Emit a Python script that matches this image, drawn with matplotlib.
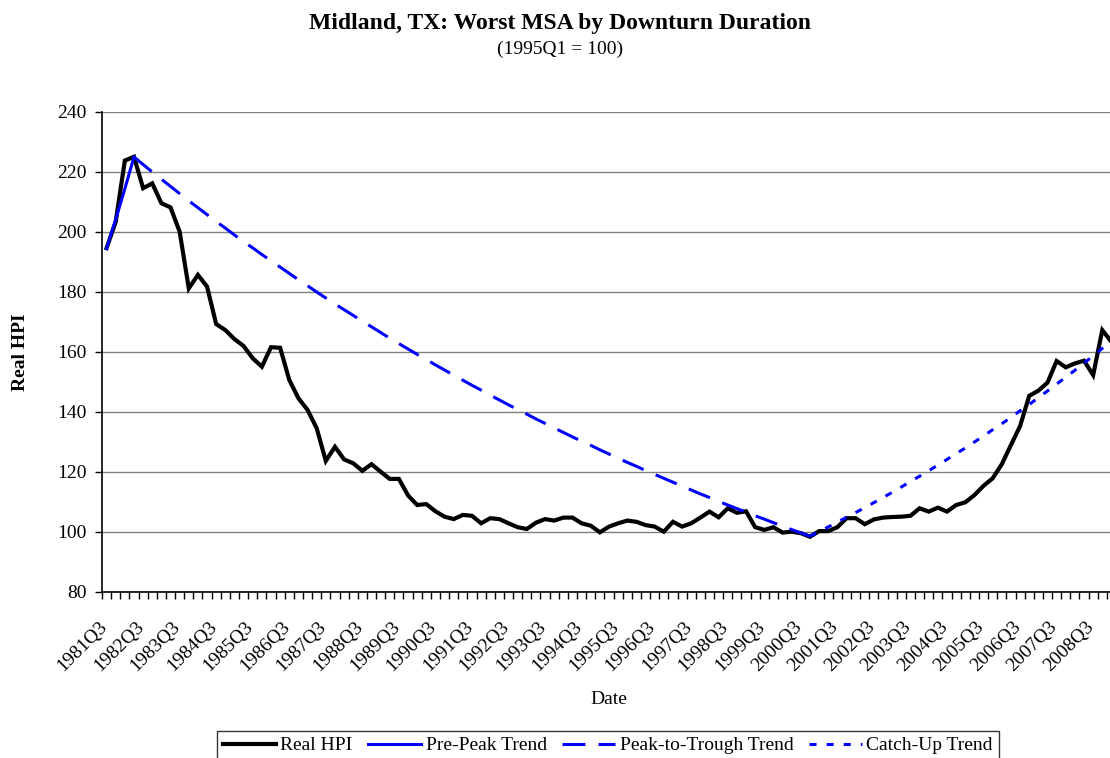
import matplotlib
matplotlib.use("Agg")
import matplotlib.pyplot as plt
from matplotlib.transforms import ScaledTranslation

plt.rcParams['font.family'] = ['Liberation Serif', 'DejaVu Serif']

# --- data (quarterly, 1981Q3 .. 2009Q1) ---
quarters = []
for y in range(1981, 2010):
    for q in range(1, 5):
        if (y == 1981 and q < 3) or (y == 2009 and q > 1):
            continue
        quarters.append(f"{y}Q{q}")

real_hpi = [
    194.6, 203.4, 223.8, 225.1, 214.6, 216.2, 209.6, 208.2, 200.1, 181.2,
    185.7, 181.8, 169.3, 167.3, 164.3, 162.0, 157.9, 155.1, 161.6, 161.4,
    150.7, 144.6, 140.7, 134.6, 123.7, 128.4, 124.2, 122.9, 120.4, 122.6,
    120.1, 117.7, 117.7, 112.2, 109.0, 109.3, 106.9, 105.1, 104.3, 105.7,
    105.4, 102.9, 104.6, 104.3, 102.9, 101.6, 101.0, 103.1, 104.3, 103.8,
    104.8, 104.8, 102.9, 102.1, 99.9, 101.8, 102.9, 103.8, 103.4, 102.3,
    101.8, 100.1, 103.4, 101.8, 102.9, 104.8, 106.8, 104.9, 107.9, 106.4,
    106.9, 101.6, 100.7, 101.6, 99.8, 100.1, 99.6, 98.4, 100.3, 100.3,
    101.6, 104.6, 104.6, 102.6, 104.2, 104.8, 105.0, 105.1, 105.4, 107.9,
    106.8, 108.1, 106.8, 109.0, 109.9, 112.3, 115.4, 117.9, 122.6, 129.0,
    135.3, 145.4, 147.1, 149.8, 157.0, 154.9, 156.2, 157.1, 152.3, 167.3,
    163.4,
]

pre_peak_start = 0
pre_peak = [194.5, 204.2, 214.4, 225.0]

peak_start = 3
peak_to_trough = [
    225.0, 222.5, 220.0, 217.6, 215.2, 212.8, 210.4, 208.1, 205.8, 203.5,
    201.3, 199.0, 196.8, 194.7, 192.5, 190.4, 188.3, 186.2, 184.1, 182.1,
    180.0, 178.0, 176.0, 174.1, 172.2, 170.2, 168.4, 166.5, 164.6, 162.8,
    161.0, 159.2, 157.5, 155.7, 154.0, 152.3, 150.6, 148.9, 147.3, 145.6,
    144.0, 142.4, 140.8, 139.3, 137.7, 136.2, 134.7, 133.2, 131.7, 130.3,
    128.9, 127.4, 126.0, 124.6, 123.2, 121.9, 120.5, 119.2, 117.9, 116.6,
    115.3, 114.0, 112.7, 111.5, 110.2, 109.0, 107.8, 106.6, 105.4, 104.3,
    103.1, 102.0, 100.8, 99.7, 98.6,
]

trough_start = 77
catch_up = [
    98.6, 100.1, 101.7, 103.3, 104.9, 106.5, 108.1, 109.8, 111.5, 113.2,
    115.0, 116.8, 118.6, 120.4, 122.3, 124.2, 126.1, 128.0, 130.0, 132.0,
    134.1, 136.1, 138.2, 140.4, 142.5, 144.8, 147.0, 149.3, 151.6, 153.9,
    156.3, 158.7, 161.2, 163.7,
]

y_ticks = [80, 100, 120, 140, 160, 180, 200, 220, 240]

# --- figure ---
fig = plt.figure(figsize=(11.10, 7.58), dpi=100)
ax = fig.add_axes([102 / 1110, 1 - 592 / 758, 1014 / 1110, 480 / 758])

x_all = list(range(len(quarters)))
ax.plot(x_all, real_hpi, color='black', lw=3.0, solid_joinstyle='miter',
        label='Real HPI', zorder=4)
ax.plot(range(pre_peak_start, pre_peak_start + len(pre_peak)), pre_peak,
        color='#0000FF', lw=2.2, label='Pre-Peak Trend', zorder=5)
ax.plot(range(peak_start, peak_start + len(peak_to_trough)), peak_to_trough,
        color='#0000FF', lw=2.2, dashes=(7.5, 4.3), label='Peak-to-Trough Trend',
        zorder=5)
ax.plot(range(trough_start, trough_start + len(catch_up)), catch_up,
        color='#0000FF', lw=2.2, dashes=(2.3, 3.3), label='Catch-Up Trend',
        zorder=5)

ax.set_xlim(-0.5, len(quarters) - 0.5)
ax.set_ylim(80, 240)
ax.set_yticks(y_ticks)
ax.yaxis.grid(True, color='#808080', lw=1.0)
ax.set_axisbelow(True)

for s in ['top', 'right']:
    ax.spines[s].set_visible(False)
ax.spines['left'].set_linewidth(1.2)
ax.spines['bottom'].set_linewidth(1.2)

# category ticks sit between categories, labels every 4 quarters
ax.set_xticks([i - 0.5 for i in range(len(quarters) + 1)], minor=True)
ax.set_xticks(range(0, len(quarters), 4))
ax.set_xticklabels(quarters[::4], rotation=45, ha='right', va='top',
                   rotation_mode='anchor', fontsize=14)
ax.tick_params(axis='x', which='major', length=0, pad=19)
ax.tick_params(axis='x', which='minor', length=5, width=1, direction='out')
ax.tick_params(axis='y', length=5, width=1, direction='out', labelsize=14, pad=6)
shift = ScaledTranslation(-8 / 100, 0, fig.dpi_scale_trans)
for lab in ax.get_xticklabels():
    lab.set_transform(lab.get_transform() + shift)

ax.set_xlabel('Date', fontsize=14)
ax.xaxis.set_label_coords(0.5, -(691 - 592) / 480)
ax.set_ylabel('Real HPI', fontsize=14, fontweight='bold')
ax.yaxis.set_label_coords(-(102 - 29) / 1014, 0.5)

fig.text(560 / 1110, 1 - 24 / 758, 'Midland, TX: Worst MSA by Downturn Duration',
         ha='center', va='center', fontsize=17, fontweight='bold')
fig.text(560 / 1110, 1 - 49 / 758, '(1995Q1 = 100)', ha='center', va='center',
         fontsize=14)

leg = fig.legend(loc='upper center', bbox_to_anchor=(608 / 1110, 1 - 731 / 758),
                 ncol=4, fontsize=14, frameon=True, fancybox=False,
                 edgecolor='black', borderpad=0.3, handlelength=2.7,
                 handletextpad=0.25, columnspacing=0.8, borderaxespad=0)
leg.get_frame().set_linewidth(1.0)

fig.savefig('out.png', dpi=100)
